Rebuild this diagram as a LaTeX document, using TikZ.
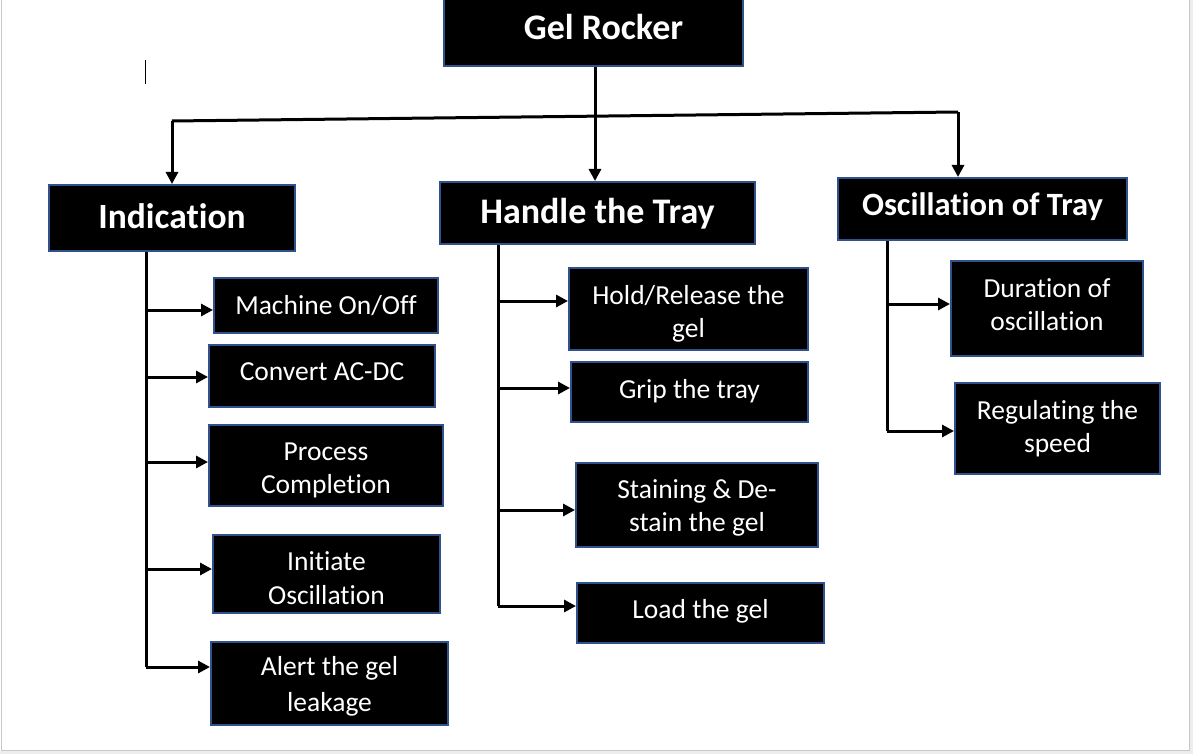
\documentclass[tikz,border=0pt]{standalone}
\usepackage{fontspec}
\setmainfont{Carlito}[Ligatures={NoCommon}]
\usetikzlibrary{arrows.meta}
\definecolor{boxedge}{HTML}{2F528F}
\definecolor{frameline}{HTML}{C8C8C8}
\definecolor{framefill}{HTML}{EDEDED}
\tikzset{
  box/.style={draw=boxedge, line width=2pt, fill=black, inner sep=0pt},
  lbl/.style={text=white, inner sep=0pt, align=center},
  toplbl/.style={lbl, font=\bfseries\fontsize{36}{42}\selectfont},
  sublbl/.style={lbl, font=\fontsize{27.5}{33.5}\selectfont},
  conn/.style={draw=black, line width=3pt},
  arr/.style={conn, -{Triangle[length=12pt,width=12pt]}}
}
\begin{document}
\begin{tikzpicture}[x=1pt,y=-1pt]
\clip (0,0) rectangle (1193,754);
\fill[white] (0,0) rectangle (1193,754);
% window frame
\fill[framefill] (1190,0) rectangle (1193,754);
\fill[framefill] (0,751) rectangle (1193,754);
\draw[frameline, line width=1.5pt] (1.5,0) -- (1.5,750.5) -- (1189.5,750.5) -- (1189.5,0);
% text cursor
\draw[black, line width=1pt] (145,60) -- (145,84);

% top level
\node[box, minimum width=299pt, minimum height=69pt,
  label={[toplbl, font=\bfseries\fontsize{36}{42}\selectfont, yshift=4pt, xshift=10pt]center:Gel Rocker}] (gel) at (593.5,31.5) {};
\node[box, minimum width=246pt, minimum height=66pt,
  label={[toplbl, font=\bfseries\fontsize{35.5}{42}\selectfont, yshift=2pt]center:Indication}] (ind) at (172,218) {};
\node[box, minimum width=315pt, minimum height=62pt,
  label={[toplbl, yshift=-1pt]center:Handle the Tray}] (han) at (597.5,213) {};
\node[box, minimum width=289pt, minimum height=62pt,
  label={[toplbl, font=\bfseries\fontsize{32.5}{38}\selectfont, yshift=2pt]center:Oscillation of Tray}] (osc) at (982.5,209) {};

% Indication children
\node[box, minimum width=224pt, minimum height=55pt,
  label={[sublbl]center:Machine On/Off}] (m1) at (326,305.5) {};
\node[box, minimum width=226pt, minimum height=62pt,
  label={[sublbl, yshift=4pt]center:Convert AC-DC}] (m2) at (322,376) {};
\node[box, minimum width=234pt, minimum height=81pt,
  label={[sublbl, yshift=-5pt]center:Process\\Completion}] (m3) at (326,465.5) {};
\node[box, minimum width=227pt, minimum height=78pt,
  label={[sublbl, yshift=-4pt]center:Initiate\\Oscillation}] (m4) at (326.5,574) {};
\node[box, minimum width=237pt, minimum height=83pt,
  label={[sublbl, font=\fontsize{27.5}{36}\selectfont, yshift=-3pt]center:Alert the gel\\leakage}] (m5) at (329.5,683.5) {};

% Handle children
\node[box, minimum width=239pt, minimum height=82pt,
  label={[sublbl, yshift=-5pt]center:Hold/Release the\\gel}] (h1) at (688.5,309) {};
\node[box, minimum width=237pt, minimum height=60pt,
  label={[sublbl, yshift=1pt]center:Grip the tray}] (h2) at (689.5,392) {};
\node[box, minimum width=242pt, minimum height=84pt,
  label={[sublbl, yshift=-3pt]center:Staining \& De-\\stain the gel}] (h3) at (697,505) {};
\node[box, minimum width=247pt, minimum height=60pt,
  label={[sublbl, yshift=2pt]center:Load the gel}] (h4) at (700.5,613) {};

% Oscillation children
\node[box, minimum width=192pt, minimum height=95pt,
  label={[sublbl, yshift=4pt]center:Duration of\\oscillation}] (o1) at (1047,308.5) {};
\node[box, minimum width=205pt, minimum height=91pt,
  label={[sublbl]center:Regulating the\\speed}] (o2) at (1057.5,428.5) {};

% top connectors
\coordinate (hl) at (172,121);
\coordinate (hr) at (958,112);
\draw[conn] (hl) -- (hr);
\draw[arr] (hl) -- (hl |- ind.north);
\draw[arr] (hr) -- (hr |- osc.north);
\draw[arr] (gel.south -| 595,0) -- (han.north -| 595,0);

% Indication trunk
\coordinate (ia) at (146,310);
\coordinate (ib) at (146,377);
\coordinate (ic) at (146,462);
\coordinate (id) at (146,569);
\coordinate (ie) at (146,667);
\draw[conn] (ind.south -| ie) -- (ie);
\draw[arr] (ie) -- (ie -| m5.west);
\draw[arr] (ia) -- (ia -| m1.west);
\draw[arr] (ib) -- (ib -| m2.west);
\draw[arr] (ic) -- (ic -| m3.west);
\draw[arr] (id) -- (id -| m4.west);

% Handle trunk
\coordinate (ha) at (498,301);
\coordinate (hb) at (498,388);
\coordinate (hc) at (498,510);
\coordinate (hd) at (498,606);
\draw[conn] (han.south -| hd) -- (hd);
\draw[arr] (hd) -- (hd -| h4.west);
\draw[arr] (ha) -- (ha -| h1.west);
\draw[arr] (hb) -- (hb -| h2.west);
\draw[arr] (hc) -- (hc -| h3.west);

% Oscillation trunk
\coordinate (oa) at (887,304);
\coordinate (ob) at (887,431);
\draw[conn] (osc.south -| ob) -- (ob);
\draw[arr] (ob) -- (ob -| o2.west);
\draw[arr] (oa) -- (oa -| o1.west);
\end{tikzpicture}
\end{document}
